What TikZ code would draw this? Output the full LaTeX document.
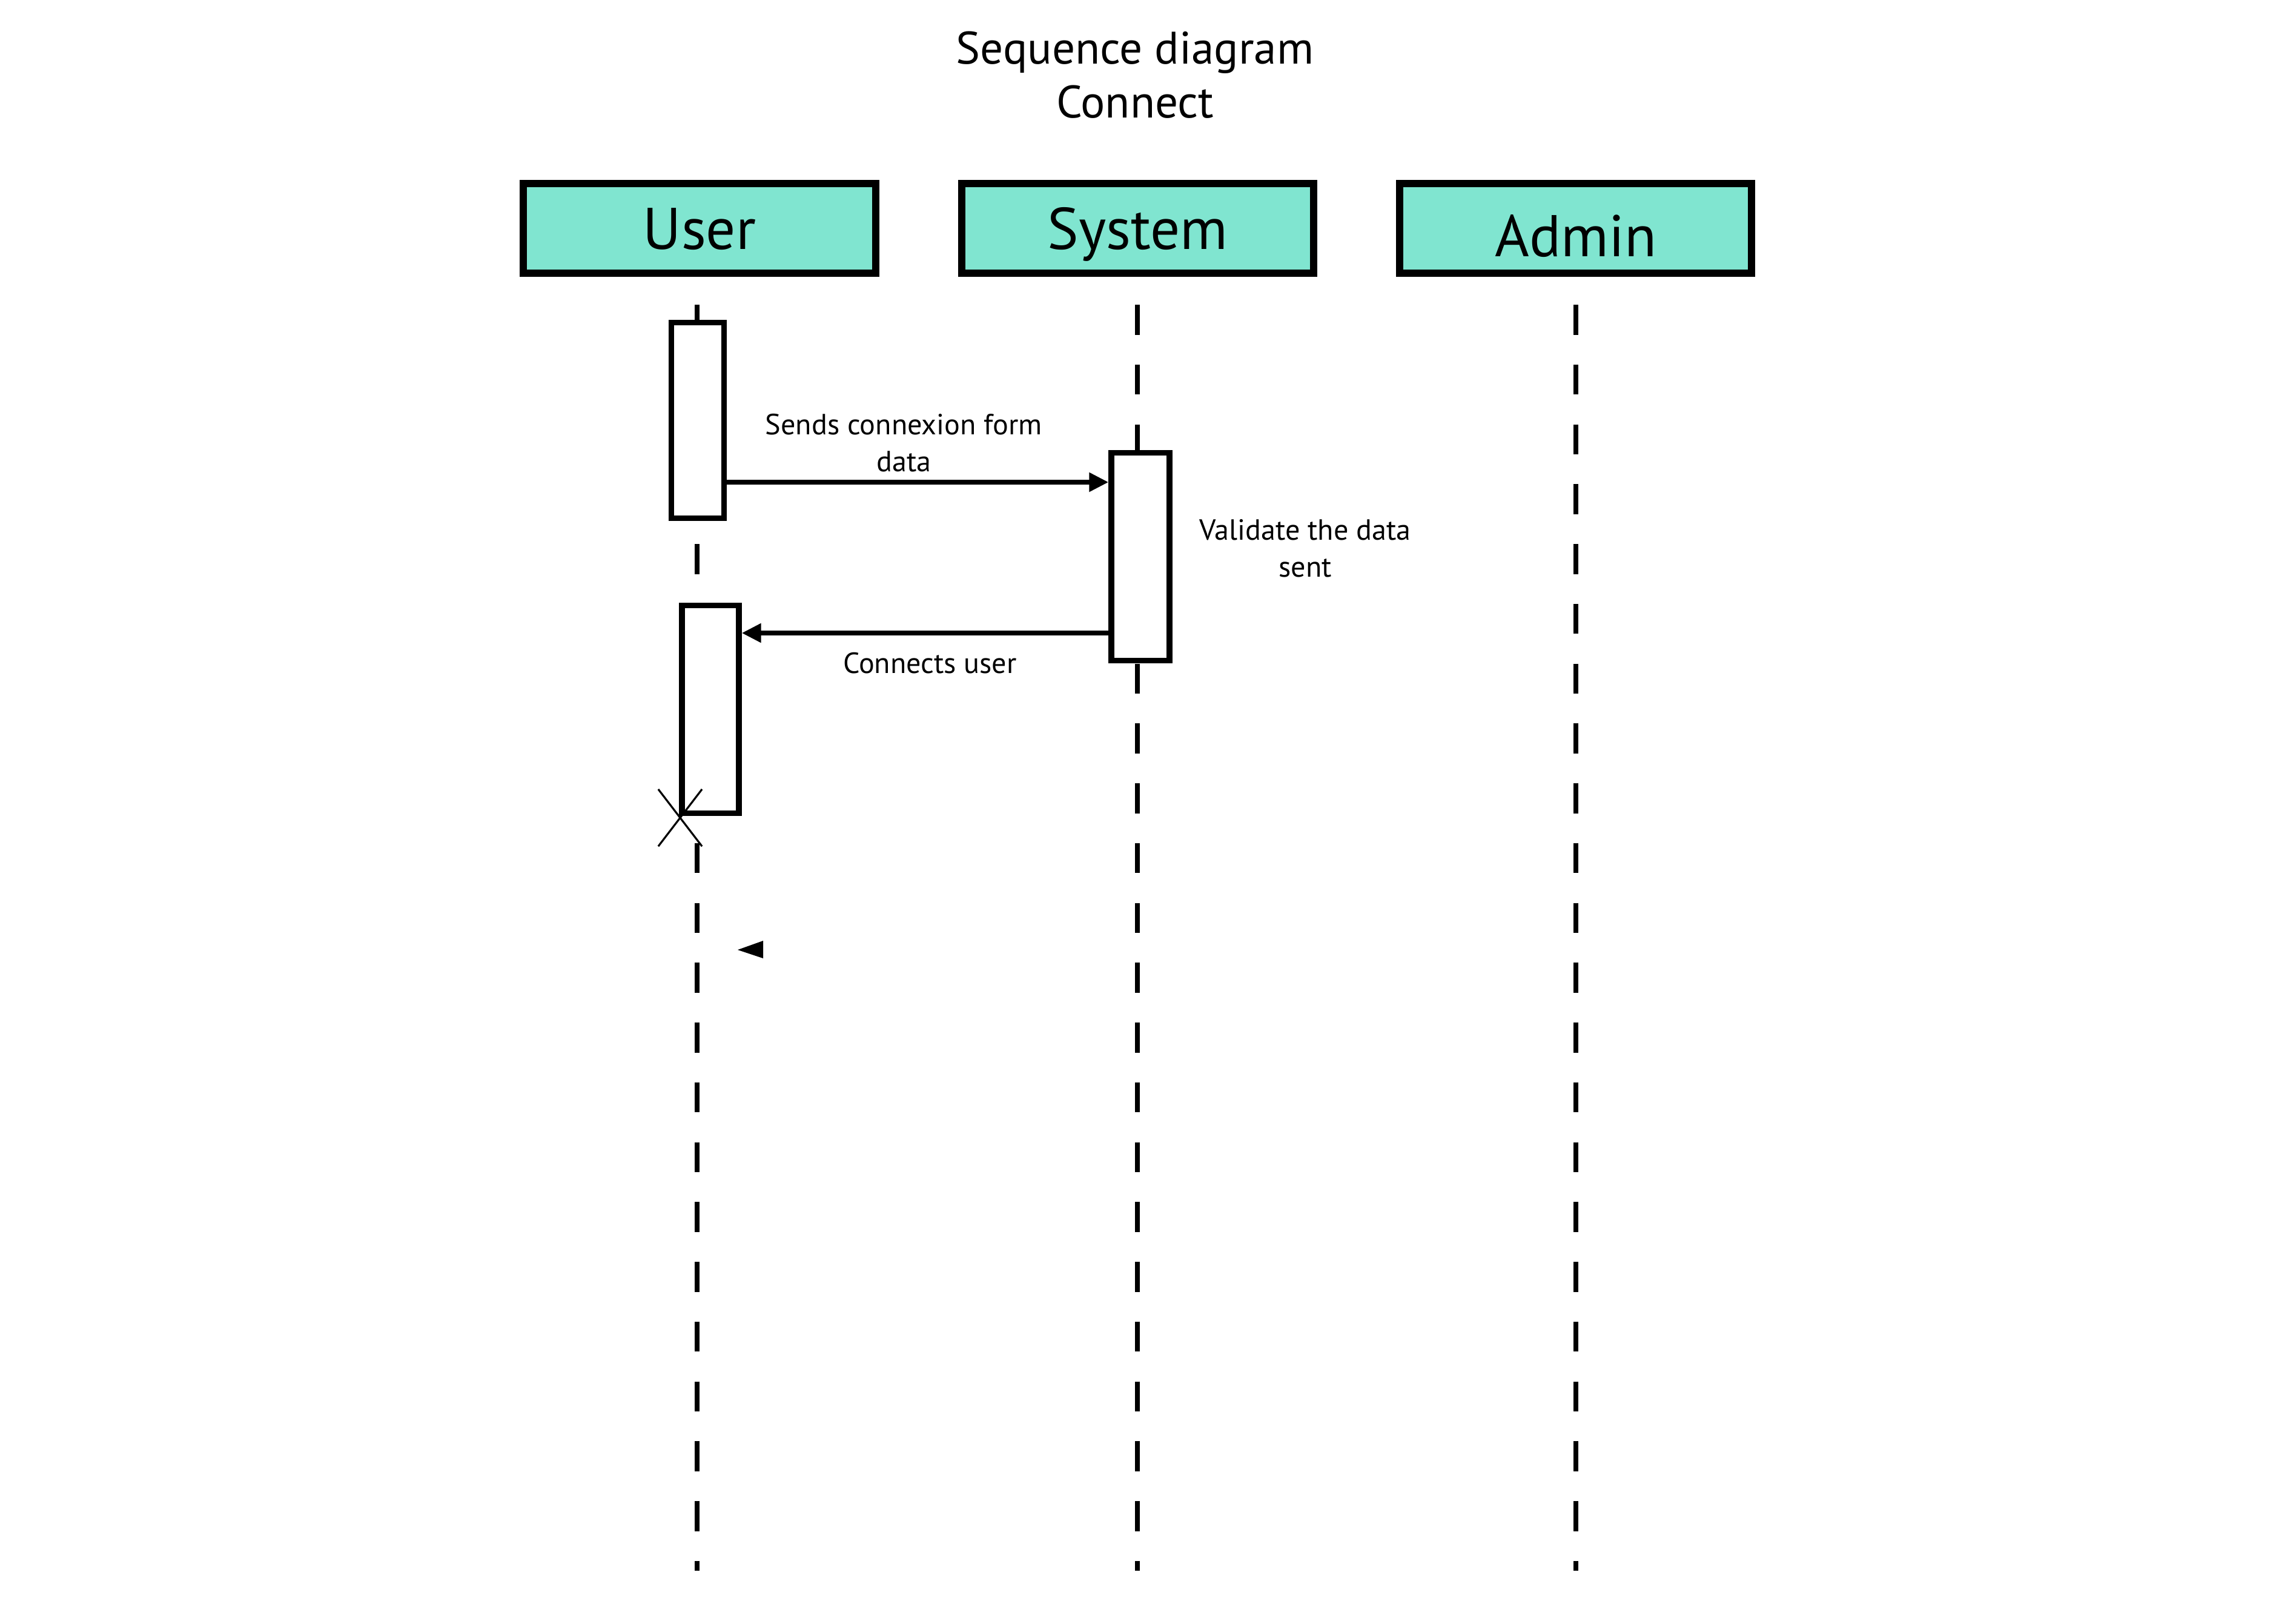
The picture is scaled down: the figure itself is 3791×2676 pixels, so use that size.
\documentclass[tikz,border=0pt]{standalone}
\usepackage{fontspec}
\setmainfont{PT Sans}
\usepackage{tikz}
\usetikzlibrary{positioning,arrows.meta,shapes.misc}
\definecolor{actorteal}{RGB}{128,229,208}
\tikzset{
  actor/.style={draw, line width=3.4pt, fill=actorteal, minimum width=5.81cm,
                minimum height=1.48cm, inner sep=0pt, text height=0.68cm, text depth=0pt,
                font=\fontsize{27.6}{33}\selectfont},
  lifeline/.style={line width=2.3pt, dash pattern=on 0.495cm off 0.492cm},
  activation/.style={draw, line width=2.6pt, fill=white, inner sep=0pt},
  msg/.style={-{Triangle[length=3.2mm, width=3mm]}, line width=2.3pt},
  msglbl/.style={font=\fontsize{13.7}{17.4}\selectfont, align=center, inner sep=0pt},
  destroy/.style={cross out, draw, line width=0.9pt, minimum width=0.69cm,
                  minimum height=0.91cm, inner sep=0pt}
}
\begin{document}
\begin{tikzpicture}[x=0.01cm, y=-0.01cm]
    \useasboundingbox (0,0) rectangle (3791,2676);
    \node[align=center, inner sep=0pt, font=\fontsize{21.4}{25.3}\selectfont] (title) at (1874,124) {Sequence diagram\\Connect};
    \node[actor] (user) at (1155,377) {User};
    \node[actor, right=1.30cm of user] (system) {System};
    \node[actor, right=1.30cm of system, text height=0.92cm] (admin) {Admin};
    \coordinate (bot) at (0,2593);
    \draw[lifeline] ([xshift=-0.04cm, yshift=-0.46cm]user.south) -- ([xshift=-0.04cm]user.south |- bot);
    \draw[lifeline] ([yshift=-0.46cm]system.south) -- (system.south |- bot);
    \draw[lifeline] ([yshift=-0.46cm]admin.south) -- (admin.south |- bot);
    \node[activation, minimum width=0.87cm, minimum height=3.22cm] (ua1) at (1152,694) {};
    \node[activation, minimum width=0.96cm, minimum height=3.42cm] (sa) at (1883,919) {};
    \node[activation, minimum width=0.94cm, minimum height=3.42cm] (ua2) at (1173,1171) {};
    \coordinate (m1) at (0,796);
    \coordinate (m2) at (0,1045);
    \draw[msg] (ua1.east |- m1) -- node[msglbl, above=0.13cm, xshift=-0.23cm]{Sends connexion form\\data} (sa.west |- m1);
    \draw[msg] (sa.west |- m2) -- node[msglbl, below=0.28cm, xshift=0.08cm]{Connects user} (ua2.east |- m2);
    \node[msglbl] (valid) at (2155,905) {Validate the data\\sent};
    \node[destroy] (kill) at (1123,1350) {};
    \coordinate (stray) at (1218,1568);
    \fill (stray) -- ++(42,-15) -- ++(0,29) -- cycle;
\end{tikzpicture}
\end{document}
